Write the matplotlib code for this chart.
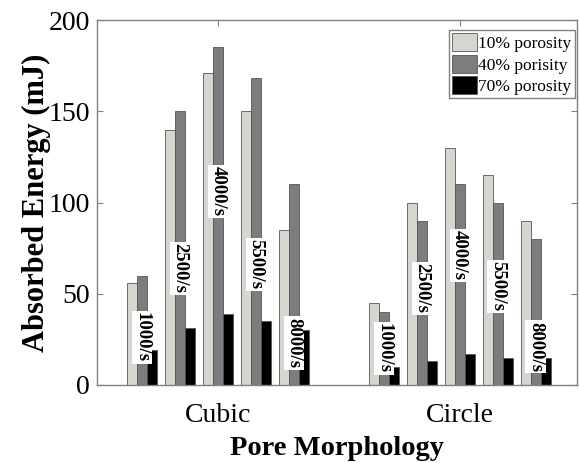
import matplotlib.pyplot as plt
import numpy as np

groups = ['Cubic', 'Circle']
rates = ['1000/s', '2500/s', '4000/s', '5500/s', '8000/s']
series = ['10% porosity', '40% porisity', '70% porosity']

# valores por grupo y tasa de deformacion
cubic_10 = [56, 140, 171, 150, 85]
cubic_40 = [60, 150, 185, 168, 110]
cubic_70 = [19, 31, 39, 35, 30]
circle_10 = [45, 100, 130, 115, 90]
circle_40 = [40, 90, 110, 100, 80]
circle_70 = [10, 13, 17, 15, 15]

# altura (en mJ) donde va cada etiqueta de tasa
label_y_cubic = [26, 64, 106, 66, 23]
label_y_circle = [20, 53, 71, 54, 21]

colores = ['#d6d6d0', '#7d7d7d', '#000000']

plt.rcParams['font.family'] = ['Liberation Serif', 'DejaVu Serif']

fig = plt.figure(figsize=(5.79, 4.63), dpi=100)
ax = fig.add_axes([97/579, 1 - 385/463, 480/579, 365/463])

datos = [[cubic_10, cubic_40, cubic_70], [circle_10, circle_40, circle_70]]
etiquetas_y = [label_y_cubic, label_y_circle]
sub_paso = 0.157
ancho = 0.041

for g, centro in enumerate([1, 2]):
    for r in range(len(rates)):
        base = centro + (r - 2) * sub_paso
        for s in range(3):
            x = base + (s - 1) * ancho
            ax.bar(x, datos[g][s][r], width=ancho, color=colores[s],
                   edgecolor='#555555', linewidth=0.6,
                   label=series[s] if (g == 0 and r == 0) else None)
        ax.text(base, etiquetas_y[g][r], rates[r], rotation=-90,
                ha='center', va='center', fontsize=13.5, fontweight='bold',
                bbox=dict(facecolor='white', edgecolor='none', pad=1.2))

ax.set_xlim(0.5, 2.485)
ax.set_ylim(0, 200)
ax.set_xticks([1, 2])
ax.set_xticklabels(groups)
ax.set_yticks([0, 50, 100, 150, 200])
ax.tick_params(direction='in', labelsize=20, top=True, right=True,
               color='#808080', length=4, pad=5)
ax.tick_params(axis='x', pad=13)
for sp in ax.spines.values():
    sp.set_color('#808080')
    sp.set_linewidth(1)

ax.set_ylabel('Absorbed Energy (mJ)', fontsize=22, fontweight='bold', labelpad=-2)
ax.set_xlabel('Pore Morphology', fontsize=20.5, fontweight='bold', labelpad=5.5)

leg = ax.legend(loc='upper right', bbox_to_anchor=(1 - 2/480, 1 - 10/365),
                fontsize=12.5, handlelength=1.4, handleheight=1.2,
                handletextpad=0.1, borderpad=0.2, labelspacing=0.15,
                fancybox=False, framealpha=1, borderaxespad=0)
leg.get_frame().set_edgecolor('#808080')

plt.savefig('out.png', dpi=100)
plt.close()
